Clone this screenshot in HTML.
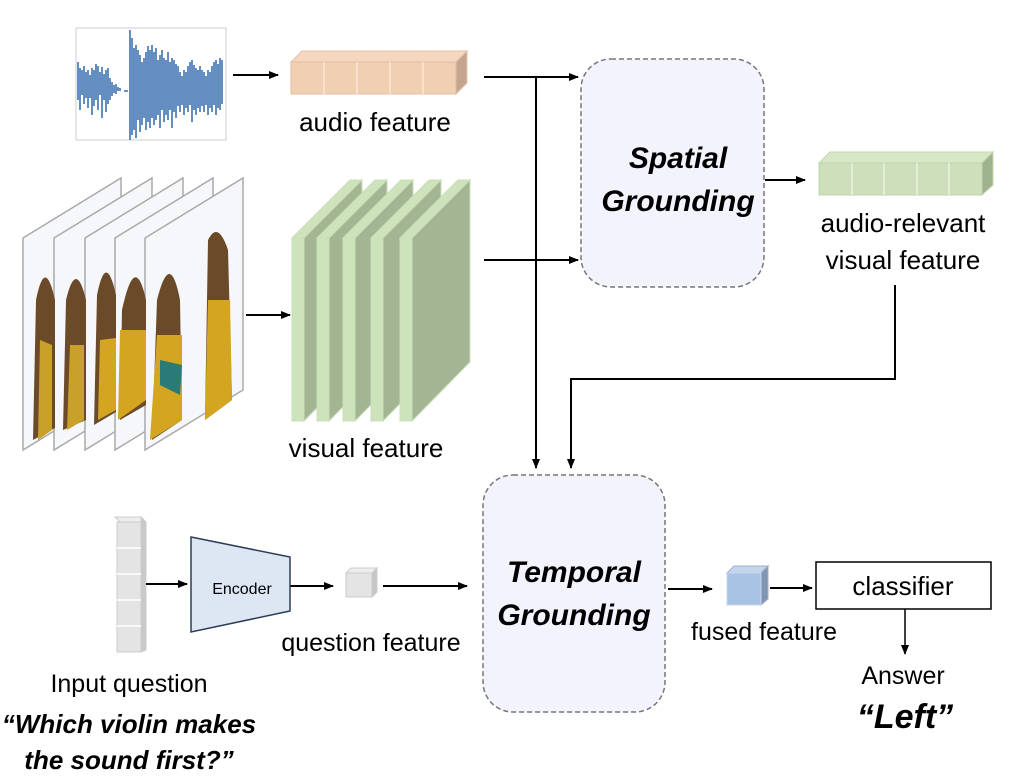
<!DOCTYPE html>
<html><head><meta charset="utf-8"><style>
html,body{margin:0;padding:0;background:#fff;}
svg{display:block;font-family:"Liberation Sans",sans-serif;}
</style></head><body>
<svg width="1023" height="777" viewBox="0 0 1023 777" xmlns="http://www.w3.org/2000/svg">
<defs>
<marker id="a" markerWidth="10" markerHeight="8" refX="9" refY="4" orient="auto" markerUnits="userSpaceOnUse"><path d="M0,0 L10,4 L0,8 z" fill="#000"/></marker>
</defs>
<!-- waveform -->
<rect x="76" y="28" width="150" height="112" fill="#fff" stroke="#ccc"/>
<g stroke="#3d72b0" stroke-width="1.6">
<path d="M78,100 L78,62 M80,110 L80,68 M82,95 L82,70 M84,104 L84,66 M86,98 L86,72 M88,108 L88,70 M90,98 L90,75 M92,115 L92,68 M94,106 L94,70 M96,100 L96,64 M98,110 L98,66 M100,95 L100,72 M102,118 L102,67 M104,100 L104,74 M106,112 L106,70 M108,104 L108,68 M110,100 L110,78 M112,96 L112,82 M114,93 L114,85 M116,94 L116,84 M118,91 L118,87 M120,91 L120,88"/>
<path d="M124,91 L128,91 M130,140 L130,30 M132,135 L132,38 M134,130 L134,48 M136,138 L136,45 M138,120 L138,50 M140,132 L140,55 M142,125 L142,62 M144,118 L144,58 M146,130 L146,52 M148,122 L148,46 M150,128 L150,50 M152,118 L152,45 M154,125 L154,52 M156,120 L156,48 M158,115 L158,60 M160,128 L160,55 M162,110 L162,50 M164,122 L164,58 M166,115 L166,60 M168,120 L168,52 M170,110 L170,62 M172,128 L172,58 M174,112 L174,60 M176,118 L176,64 M178,106 L178,66 M180,112 L180,72 M182,105 L182,76 M184,115 L184,70 M186,108 L186,72 M188,112 L188,66 M190,105 L190,62 M192,122 L192,60 M194,110 L194,65 M196,115 L196,68 M198,108 L198,70 M200,112 L200,66 M202,106 L202,70 M204,112 L204,72 M206,105 L206,76 M208,115 L208,70 M210,108 L210,72 M212,112 L212,66 M214,105 L214,62 M216,115 L216,60 M218,108 L218,64 M220,110 L220,58 M222,104 L222,60"/>
</g>
<line x1="233" y1="75" x2="278" y2="75" stroke="#000" stroke-width="2" marker-end="url(#a)"/>
<!-- audio feature block -->
<polygon points="291,62 302,51 467,51 456,62" fill="#f5d7bf" stroke="#e6c2a6"/>
<polygon points="456,62 467,51 467,83 456,94" fill="#c4a690" stroke="#e6c2a6"/>
<rect x="291" y="62" width="165" height="32" fill="#f1cfb2" stroke="#e0bfa2"/>
<g stroke="#fbe6d6" stroke-width="1.5"><line x1="324" y1="62" x2="324" y2="94"/><line x1="357" y1="62" x2="357" y2="94"/><line x1="390" y1="62" x2="390" y2="94"/><line x1="423" y1="62" x2="423" y2="94"/></g>
<text x="375" y="131" font-size="26" text-anchor="middle">audio feature</text>
<!-- frames -->
<g stroke="#aaa" stroke-width="1.5">
<polygon points="23,238 121,178 121,390 23,450" fill="#f6f7fb"/>
<polygon points="54,238 152,178 152,390 54,450" fill="#f6f7fb"/>
<polygon points="85,238 183,178 183,390 85,450" fill="#f6f7fb"/>
<polygon points="115,238 213,178 213,390 115,450" fill="#f6f7fb"/>
<polygon points="145,238 243,178 243,390 145,450" fill="#f6f7fb"/>
</g>
<g>
<path d="M33,440 L36,300 Q45,255 55,300 L55,428 z" fill="#6b4a2a"/>
<path d="M38,440 L40,340 L52,345 L52,430 z" fill="#c9a02a"/>
<path d="M63,430 L66,300 Q76,258 86,300 L86,420 z" fill="#6b4a2a"/>
<path d="M67,430 L70,345 L84,345 L84,420 z" fill="#c9a02a"/>
<path d="M94,425 L97,295 Q106,250 116,295 L116,412 z" fill="#6b4a2a"/>
<path d="M98,420 L100,340 L116,338 L116,410 z" fill="#d4a520"/>
<path d="M120,420 L122,310 Q135,250 146,300 L146,405 z" fill="#6b4a2a"/>
<path d="M118,420 L120,330 L146,330 L146,400 z" fill="#d4a520"/>
<path d="M152,440 L157,300 Q170,248 180,300 L182,420 z" fill="#6b4a2a"/>
<path d="M150,440 L157,335 L182,335 L182,420 z" fill="#d4a520"/>
<path d="M205,420 L208,240 Q218,220 228,250 L232,400 z" fill="#6b4a2a"/>
<path d="M205,420 L208,300 L230,300 L232,400 z" fill="#d4a520"/>
<path d="M160,360 L182,365 L180,395 L160,385 z" fill="#2a7a78"/>
</g>
<line x1="246" y1="315" x2="290" y2="315" stroke="#000" stroke-width="2" marker-end="url(#a)"/>
<!-- visual feature slices -->
<g stroke="#c9dfb8" stroke-width="1">
<polygon points="292,238 350,180 362,180 304,238" fill="#cde3bc"/>
<polygon points="304,238 362,180 362,362 304,421" fill="#a4b594"/>
<rect x="292" y="238" width="12" height="183" fill="#cde3bc"/>
<polygon points="317,238 375,180 387,180 329,238" fill="#cde3bc"/>
<polygon points="329,238 387,180 387,362 329,421" fill="#a4b594"/>
<rect x="317" y="238" width="12" height="183" fill="#cde3bc"/>
<polygon points="343,238 401,180 413,180 355,238" fill="#cde3bc"/>
<polygon points="355,238 413,180 413,362 355,421" fill="#a4b594"/>
<rect x="343" y="238" width="12" height="183" fill="#cde3bc"/>
<polygon points="371,238 429,180 441,180 383,238" fill="#cde3bc"/>
<polygon points="383,238 441,180 441,362 383,421" fill="#a4b594"/>
<rect x="371" y="238" width="12" height="183" fill="#cde3bc"/>
<polygon points="400,238 458,180 470,180 412,238" fill="#cde3bc"/>
<polygon points="412,238 470,180 470,362 412,421" fill="#a4b594"/>
<rect x="400" y="238" width="12" height="183" fill="#cde3bc"/>
</g>
<text x="366" y="457" font-size="26" text-anchor="middle">visual feature</text>
<!-- connectors -->
<g stroke="#000" stroke-width="2" fill="none">
<line x1="484" y1="77" x2="578" y2="77" marker-end="url(#a)"/>
<line x1="484" y1="260" x2="578" y2="260" marker-end="url(#a)"/>
<line x1="536" y1="77" x2="536" y2="468" marker-end="url(#a)"/>
<polyline points="895,285 895,379 571,379 571,468" marker-end="url(#a)"/>
<line x1="765" y1="180" x2="805" y2="180" marker-end="url(#a)"/>
</g>
<!-- spatial box -->
<rect x="581" y="59" width="183" height="228" rx="30" fill="#f3f3fd" stroke="#777" stroke-width="1.5" stroke-dasharray="5,3"/>
<text x="678" y="168" font-size="30" font-weight="bold" font-style="italic" text-anchor="middle">Spatial</text>
<text x="678" y="211" font-size="30" font-weight="bold" font-style="italic" text-anchor="middle">Grounding</text>
<!-- green block -->
<polygon points="819,163 830,152 993,152 982,163" fill="#d6e8c8" stroke="#c0d8ae"/>
<polygon points="982,163 993,152 993,185 982,195" fill="#9fb38e" stroke="#c0d8ae"/>
<rect x="819" y="163" width="163" height="32" fill="#cde0bb" stroke="#bcd5a8"/>
<g stroke="#e8f2df" stroke-width="1.5"><line x1="852" y1="163" x2="852" y2="195"/><line x1="884" y1="163" x2="884" y2="195"/><line x1="917" y1="163" x2="917" y2="195"/><line x1="949" y1="163" x2="949" y2="195"/></g>
<text x="903" y="232" font-size="26" text-anchor="middle">audio-relevant</text>
<text x="903" y="269" font-size="26" text-anchor="middle">visual feature</text>
<!-- temporal box -->
<rect x="483" y="475" width="182" height="237" rx="30" fill="#f3f3fd" stroke="#777" stroke-width="1.5" stroke-dasharray="5,3"/>
<text x="574" y="582" font-size="30" font-weight="bold" font-style="italic" text-anchor="middle">Temporal</text>
<text x="574" y="625" font-size="30" font-weight="bold" font-style="italic" text-anchor="middle">Grounding</text>
<!-- question stack -->
<polygon points="146,522 141,517 115,517 120,522" fill="#eee" stroke="#ccc"/>
<polygon points="141,517 146,522 146,650 141,652" fill="#c9c9c9" stroke="#ccc"/>
<rect x="117" y="522" width="24" height="130" fill="#e4e4e4" stroke="#ccc"/>
<g stroke="#fff" stroke-width="1.5"><line x1="117" y1="548" x2="141" y2="548"/><line x1="117" y1="574" x2="141" y2="574"/><line x1="117" y1="600" x2="141" y2="600"/><line x1="117" y1="626" x2="141" y2="626"/></g>
<g stroke="#000" stroke-width="2">
<line x1="146" y1="584" x2="187" y2="584" marker-end="url(#a)"/>
<line x1="290" y1="586" x2="333" y2="586" marker-end="url(#a)"/>
<line x1="383" y1="586" x2="467" y2="586" marker-end="url(#a)"/>
<line x1="668" y1="589" x2="712" y2="589" marker-end="url(#a)"/>
<line x1="770" y1="588" x2="812" y2="588" marker-end="url(#a)"/>
<line x1="905" y1="609" x2="905" y2="654" stroke-width="1.5" marker-end="url(#a)"/>
</g>
<polygon points="191,537 290,557 290,611 191,632" fill="#dce7f3" stroke="#2c3e56" stroke-width="1.5"/>
<text x="242" y="594" font-size="16" text-anchor="middle">Encoder</text>
<!-- question cube -->
<polygon points="346,573 351,568 377,568 372,573" fill="#eee" stroke="#ccc"/>
<polygon points="372,573 377,568 377,592 372,597" fill="#c6c6c6" stroke="#ccc"/>
<rect x="346" y="573" width="26" height="24" fill="#e4e4e4" stroke="#ccc"/>
<text x="371" y="651" font-size="25" text-anchor="middle">question feature</text>
<!-- blue cube -->
<polygon points="727,573 734,566 768,566 761,573" fill="#c2d6ee" stroke="#aac"/>
<polygon points="761,573 768,566 768,599 761,605" fill="#7f96b2" stroke="#aac"/>
<rect x="727" y="573" width="34" height="32" fill="#a9c3e5" stroke="#c5d5ea"/>
<text x="764" y="640" font-size="25" text-anchor="middle">fused feature</text>
<rect x="816" y="562" width="175" height="47" fill="#fff" stroke="#000" stroke-width="1.5"/>
<text x="903" y="595" font-size="26" text-anchor="middle">classifier</text>
<text x="903" y="684" font-size="25" text-anchor="middle">Answer</text>
<text x="905" y="728" font-size="34" font-weight="bold" font-style="italic" text-anchor="middle">“Left”</text>
<text x="129" y="692" font-size="25" text-anchor="middle">Input question</text>
<text x="129" y="733" font-size="26" font-weight="bold" font-style="italic" text-anchor="middle">“Which violin makes</text>
<text x="129" y="769" font-size="26" font-weight="bold" font-style="italic" text-anchor="middle">the sound first?”</text>
</svg>
</body></html>
